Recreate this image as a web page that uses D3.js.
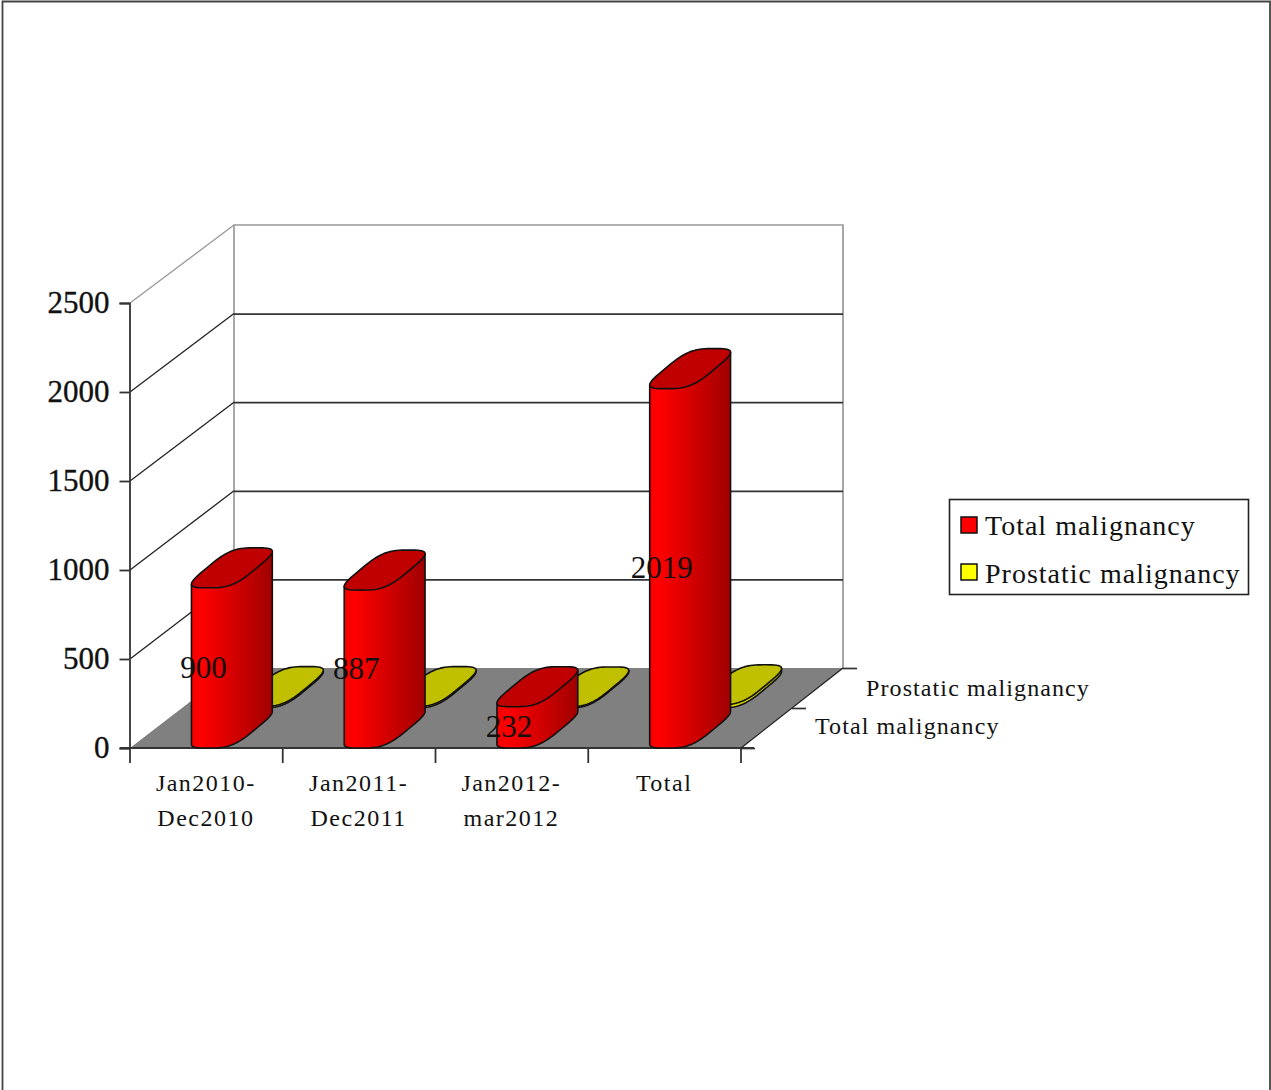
<!DOCTYPE html>
<html>
<head>
<meta charset="utf-8">
<script src="https://cdn.jsdelivr.net/npm/d3@7/dist/d3.min.js"></script>
<style>
  html, body { margin: 0; padding: 0; background: #fff; }
  svg { display: block; }
  text { font-family: "Liberation Serif", serif; fill: #111; }
</style>
</head>
<body>
<svg id="chart" width="1271" height="1090"></svg>
<script>
// Chart data
const categories = ["Jan2010-\nDec2010", "Jan2011-\nDec2011", "Jan2012-\nmar2012", "Total"];
const totalMalignancy = [900, 887, 232, 2019];
const prostaticMalignancy = [8, 8, 6, 18];
const seriesNames = ["Total malignancy", "Prostatic malignancy"];
const valueTicks = [0, 500, 1000, 1500, 2000, 2500];

const svg = d3.select("#chart");

// Front plane and back wall of the 3D box
const front = { left: 130, right: 741, floor: 748, top: 303 };
const back = { left: 234, right: 843, floor: 668, top: 225 };

const yFront = d3.scaleLinear().domain([0, 2500]).range([front.floor, front.top]);
const yBack = d3.scaleLinear().domain([0, 2500]).range([back.floor, back.top]);
const xBand = d3.scaleBand().domain(categories).range([front.left, front.right]);
const xEdges = d3.scaleLinear().domain([0, categories.length]).range([front.left, front.right]);
// Depth rows: 0 = front row, 1 = back row; shift in x and y on the floor
const rowShift = d3.scaleLinear().domain([0, 2]);
const depthX = rowShift.copy().range([0, back.right - front.right]);
const depthY = rowShift.copy().range([0, back.floor - front.floor]);

// Page frame (open along the bottom)
svg.append("path").attr("d", "M2.5,1090V1.5H1270V1090")
  .attr("fill", "none").attr("stroke", "#444").attr("stroke-width", 1.8);

// Gradients for the cylinder sides
const defs = svg.append("defs");
function sideGradient(id, stops) {
  const g = defs.append("linearGradient").attr("id", id)
    .attr("x1", 0).attr("x2", 1).attr("y1", 0).attr("y2", 0);
  stops.forEach(([o, c]) => g.append("stop").attr("offset", o).attr("stop-color", c));
}
sideGradient("redSide", [[0, "#f60000"], [0.12, "#ff0000"], [1, "#a00000"]]);
sideGradient("yellowSide", [[0, "#ffff00"], [1, "#a8a800"]]);

// Walls
const walls = svg.append("g").attr("fill", "none");
walls.append("path")
  .attr("d", `M${back.left},${back.floor}V${back.top}H${back.right}V${back.floor}`)
  .attr("stroke", "#999").attr("stroke-width", 1.7);
valueTicks.forEach(v => {
  const isBorder = v === 2500;
  if (v > 0 && !isBorder) {
    walls.append("line")
      .attr("x1", back.left).attr("x2", back.right)
      .attr("y1", yBack(v) + 0.5).attr("y2", yBack(v) + 0.5)
      .attr("stroke", "#333").attr("stroke-width", 1.8);
  }
  if (v > 0) {
    walls.append("line")
      .attr("x1", front.left).attr("y1", yFront(v))
      .attr("x2", back.left).attr("y2", yBack(v))
      .attr("stroke", isBorder ? "#999" : "#222").attr("stroke-width", 1.3);
  }
});

// Floor
svg.append("polygon")
  .attr("points", [[front.left, front.floor], [front.right, front.floor],
                   [back.right, back.floor], [back.left, back.floor]].join(" "))
  .attr("fill", "#808080");

// Value axis
const axisY = svg.append("g").attr("transform", `translate(${front.left - 0.5},0)`)
  .call(d3.axisLeft(yFront).tickValues(valueTicks).tickSize(10).tickPadding(10).tickFormat(d3.format("d")));
axisY.select(".domain").attr("stroke", "#333").attr("stroke-width", 1.8);
axisY.selectAll("line").attr("stroke", "#333").attr("stroke-width", 1.8);
axisY.selectAll("text").style("font-family", "'Liberation Serif', serif")
  .attr("font-size", 31).attr("fill", "#111").attr("stroke", "#111").attr("stroke-width", 0.35);

// Category axis
const axisX = svg.append("g").attr("transform", `translate(-0.5,${front.floor})`)
  .call(d3.axisBottom(xEdges).tickValues(d3.range(categories.length + 1)).tickSize(15).tickFormat(""));
axisX.select(".domain").attr("stroke", "none");
axisX.selectAll("line").attr("stroke", "#333").attr("stroke-width", 1.8);
svg.append("line")
  .attr("x1", front.left - 10).attr("x2", front.right + 13)
  .attr("y1", front.floor).attr("y2", front.floor)
  .attr("stroke", "#333").attr("stroke-width", 1.8);

categories.forEach(c => {
  c.split("\n").forEach((line, i) => {
    svg.append("text")
      .attr("x", xBand(c) + xBand.bandwidth() / 2 - 0.5)
      .attr("y", 791 + i * 35)
      .attr("text-anchor", "middle")
      .attr("font-size", 24)
      .attr("letter-spacing", 1.5)
      .text(line);
  });
});

// Depth axis ticks and labels
const depthRows = [0, 1, 2];
depthRows.forEach(r => {
  const x0 = front.right + depthX(r);
  const y0 = front.floor + depthY(r);
  svg.append("line").attr("x1", x0).attr("x2", x0 + 14).attr("y1", y0 + 0.5).attr("y2", y0 + 0.5)
    .attr("stroke", "#333").attr("stroke-width", 1.7);
});
svg.append("line")
  .attr("x1", front.right).attr("y1", front.floor)
  .attr("x2", back.right).attr("y2", back.floor)
  .attr("stroke", "#222").attr("stroke-width", 1.3);
[[seriesNames[0], 815, 734], [seriesNames[1], 866, 696]].forEach(([t, x, y]) => {
  svg.append("text").attr("x", x).attr("y", y)
    .attr("font-size", 24).attr("letter-spacing", 1.1).text(t);
});

// Footprint of a cylinder: a rounded parallelogram sheared along the floor
const halfWidth = 25, halfShear = 24, halfDepth = 20, roundness = 3.6;
const ringAngles = d3.range(0, 2 * Math.PI, Math.PI / 36);
function ringPoints(cx, cy) {
  const pow = v => Math.sign(v) * Math.pow(Math.abs(v), 2 / roundness);
  return ringAngles.map(t => {
    const X = pow(Math.cos(t)), Y = pow(Math.sin(t));
    return [cx + halfWidth * X + halfShear * Y, cy - halfDepth * Y];
  });
}
const closedLine = d3.line().curve(d3.curveLinearClosed);

function drawCylinder(layer, cx, baseY, topY, sideFill, capFill) {
  const base = ringPoints(cx, baseY);
  const cap = ringPoints(cx, topY);
  const xMin = d3.min(base, p => p[0]), xMax = d3.max(base, p => p[0]);
  const iMin = base.findIndex(p => p[0] === xMin), iMax = base.findIndex(p => p[0] === xMax);
  // Walk the lower half of the outline, from the leftmost point round to the rightmost
  const n = base.length, lower = [];
  for (let i = iMin; ; i = (i + 1) % n) { lower.push(base[i]); if (i === iMax) break; }
  const side = [[xMin, cap[iMin][1]], ...lower, [xMax, cap[iMax][1]]];
  layer.append("path").attr("d", closedLine(side))
    .attr("fill", sideFill).attr("stroke", "#111").attr("stroke-width", 1.6).attr("stroke-linejoin", "round");
  layer.append("path").attr("d", closedLine(cap))
    .attr("fill", capFill).attr("stroke", "#111").attr("stroke-width", 1.6).attr("stroke-linejoin", "round");
}

const marks = svg.append("g");
const centerOf = (c, row) => xBand(c) + xBand.bandwidth() / 2 + depthX(row + 0.5);
const baseOf = row => front.floor + depthY(row + 0.5);
const heightOf = v => front.floor - yFront(v);

// Back row first so that the red cylinders overlap the yellow ones
categories.forEach((c, i) => {
  const y0 = baseOf(1);
  drawCylinder(marks, centerOf(c, 1), y0, y0 - heightOf(prostaticMalignancy[i]), "url(#yellowSide)", "#c0c000");
});
categories.forEach((c, i) => {
  const y0 = baseOf(0);
  drawCylinder(marks, centerOf(c, 0), y0, y0 - heightOf(totalMalignancy[i]), "url(#redSide)", "#c00000");
});

// Value labels, centred at half of each column's height
categories.forEach((c, i) => {
  const v = totalMalignancy[i];
  svg.append("text")
    .attr("x", xBand(c) + xBand.bandwidth() / 2 - 3)
    .attr("y", front.floor - heightOf(v) / 2 + 10)
    .attr("text-anchor", "middle")
    .attr("font-size", 31)
    .text(v);
});

// Legend
const legend = svg.append("g");
legend.append("rect").attr("x", 949.5).attr("y", 499.5).attr("width", 299).attr("height", 95)
  .attr("fill", "#fff").attr("stroke", "#222").attr("stroke-width", 1.6);
const legendColors = ["#ff0000", "#ffff00"];
seriesNames.forEach((name, i) => {
  legend.append("rect").attr("x", 961).attr("y", 517 + i * 47).attr("width", 16).attr("height", 16)
    .attr("fill", legendColors[i]).attr("stroke", "#111").attr("stroke-width", 1.5);
  legend.append("text").attr("x", 985).attr("y", 535 + i * 48)
    .attr("font-size", 28).attr("letter-spacing", 1).text(name);
});
</script>
</body>
</html>
